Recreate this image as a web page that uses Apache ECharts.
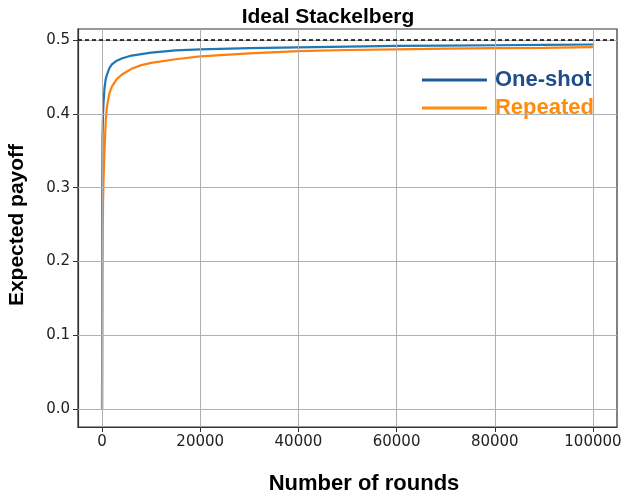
<!DOCTYPE html>
<html>
<head>
<meta charset="utf-8">
<script src="https://cdn.jsdelivr.net/npm/echarts@6/dist/echarts.min.js"></script>
<style>html,body{margin:0;padding:0;background:#fff;}#c{width:621px;height:492px;}</style>
</head>
<body>
<div id="c"></div>
<script>
const rounds = [0, 50, 100, 200, 300, 500, 750, 1000, 1500, 2000, 3000, 4000, 5000, 6000, 8000, 10000, 15000, 20000, 30000, 40000, 50000, 60000, 70000, 80000, 90000, 100000];
const oneShot = [0, 0.30, 0.37, 0.40, 0.415, 0.435, 0.447, 0.453, 0.462, 0.467, 0.472, 0.475, 0.477, 0.479, 0.481, 0.483, 0.486, 0.4875, 0.489, 0.490, 0.491, 0.492, 0.4925, 0.493, 0.4935, 0.494];
const repeated = [0, 0.15, 0.22, 0.28, 0.31, 0.35, 0.39, 0.41, 0.428, 0.437, 0.447, 0.453, 0.457, 0.461, 0.466, 0.469, 0.474, 0.478, 0.482, 0.485, 0.4865, 0.4875, 0.4885, 0.489, 0.4895, 0.4905];
const xTicks = [0, 20000, 40000, 60000, 80000, 100000];
const yTicks = [0, 0.1, 0.2, 0.3, 0.4, 0.5];
const refLevel = 0.5;

const chart = echarts.init(document.getElementById('c'), null, {renderer: 'canvas'});
const gridColor = '#b0b0b0';
const tickFont = {fontFamily: 'DejaVu Sans', fontSize: 15, color: '#222'};

const option = {
  animation: false,
  backgroundColor: '#fff',
  grid: {left: 78, right: 4, top: 29, bottom: 65, show: true, borderColor: '#333', borderWidth: 1.2, backgroundColor: 'transparent', outerBoundsMode: 'none', containLabel: false},
  xAxis: {
    type: 'value', min: -4900, max: 104900,
    axisLine: {show: true, onZero: false, lineStyle: {color: '#333', width: 1.2}},
    axisTick: {show: true, customValues: xTicks, length: 5, lineStyle: {color: '#333'}},
    axisLabel: Object.assign({customValues: xTicks, margin: 8, formatter: v => String(v), hideOverlap: false}, tickFont),
    splitLine: {show: false}
  },
  yAxis: {
    type: 'value', min: -0.0245, max: 0.515,
    axisLine: {show: true, onZero: false, lineStyle: {color: '#333', width: 1.2}},
    axisTick: {show: true, customValues: yTicks, length: 5, lineStyle: {color: '#333'}},
    axisLabel: Object.assign({customValues: yTicks, margin: 8, formatter: v => v.toFixed(1)}, tickFont),
    splitLine: {show: false}
  },
  legend: {
    orient: 'vertical', right: 22, top: 64, itemGap: 6, itemWidth: 65, itemHeight: 3, icon: 'rect',
    textStyle: {fontFamily: 'Liberation Sans', fontWeight: 'bold', fontSize: 22, padding: [0, 0, 0, 3]},
    data: [
      {name: 'One-shot', itemStyle: {color: '#1f5b9a'}, textStyle: {color: '#1f4e8a'}},
      {name: 'Repeated', itemStyle: {color: '#ff8c0a'}, textStyle: {color: '#ff8c0a'}}
    ]
  },
  graphic: [
    {type: 'text', style: {text: 'Ideal Stackelberg', x: 328, y: 7, textAlign: 'center', font: 'bold 21px "Liberation Sans"', fill: '#000'}},
    {type: 'text', style: {text: 'Number of rounds', x: 364, y: 473, textAlign: 'center', font: 'bold 22px "Liberation Sans"', fill: '#000'}},
    {type: 'text', rotation: Math.PI / 2, x: 7, y: 225, style: {text: 'Expected payoff', x: 0, y: 0, textAlign: 'center', textVerticalAlign: 'top', font: 'bold 21px "Liberation Sans"', fill: '#000'}}
  ],
  series: [
    {
      name: 'grid', type: 'line', data: [], silent: true, z: 1,
      markLine: {
        silent: true, symbol: 'none', label: {show: false},
        lineStyle: {color: gridColor, width: 1, type: 'solid'},
        data: xTicks.map(v => ({xAxis: v})).concat(yTicks.map(v => ({yAxis: v})))
      }
    },
    {
      name: 'One-shot', type: 'line', showSymbol: false, symbol: 'none', z: 3,
      lineStyle: {color: '#1f77b4', width: 2.2}, itemStyle: {color: '#1f77b4'},
      data: rounds.map((r, i) => [r, oneShot[i]])
    },
    {
      name: 'Repeated', type: 'line', showSymbol: false, symbol: 'none', z: 4,
      lineStyle: {color: '#ff7f0e', width: 2.2}, itemStyle: {color: '#ff7f0e'},
      data: rounds.map((r, i) => [r, repeated[i]])
    },
    {
      name: 'ref', type: 'line', data: [], silent: true, z: 5,
      markLine: {
        silent: true, symbol: 'none', label: {show: false},
        lineStyle: {color: '#000', width: 1.5, type: [4, 3]},
        data: [{yAxis: refLevel}]
      }
    }
  ]
};
chart.setOption(option);
</script>
</body>
</html>
